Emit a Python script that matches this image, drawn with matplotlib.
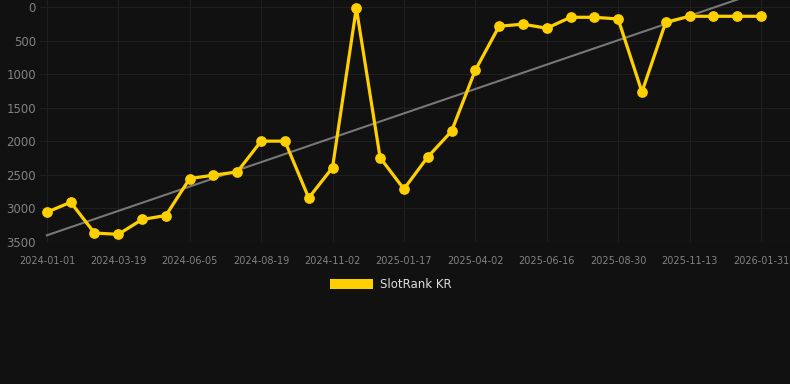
# SlotRank KR rank history, dark theme
import numpy as np
import matplotlib.pyplot as plt
from matplotlib.patches import Patch

# rank values per sample, 0 = best rank
rank = [3056, 2908, 3367, 3387, 3165, 3106, 2554, 2504, 2455, 1996,
        1996, 2844, 2391, 10, 2243, 2711, 2233, 1849, 937, 281,
        251, 311, 148, 148, 173, 1262, 222, 133, 133, 133, 133]
tick_labels = ['2024-01-01', '2024-03-19', '2024-06-05', '2024-08-19',
               '2024-11-02', '2025-01-17', '2025-04-02', '2025-06-16',
               '2025-08-30', '2025-11-13', '2026-01-31']
y_ticks = [0, 500, 1000, 1500, 2000, 2500, 3000, 3500]

bg = '#111111'
gold = '#FFD000'

x = np.arange(len(rank))
# linear trend through the data
k, b = np.polyfit(x, rank, 1)

fig = plt.figure(figsize=(7.9, 3.84), dpi=100, facecolor=bg)
ax = fig.add_axes([0.0506, 0.370, 0.9494, 0.630])
ax.set_facecolor(bg)

ax.plot(x, k * x + b, color='#777777', linewidth=1.5, zorder=2)
ax.plot(x, rank, color=gold, linewidth=2.3, marker='o', markersize=6.7, zorder=3)

ax.set_xlim(-0.29, 31.22)
ax.set_ylim(3500, -110)
ax.set_yticks(y_ticks)
ax.set_xticks(x[::3])
ax.set_xticklabels(tick_labels)
ax.tick_params(axis='y', length=0, labelsize=8.5, colors='#828282', pad=3)
ax.tick_params(axis='x', length=0, labelsize=7, colors='#828282', pad=10)
ax.grid(True, color='#1f1f1f', linewidth=0.8)
for s in ax.spines.values():
    s.set_visible(False)
ax.axhline(3500, color='#242424', linewidth=1)

fig.legend(handles=[Patch(facecolor=gold, label='SlotRank KR')],
           loc='center', bbox_to_anchor=(0.495, 0.258), frameon=False,
           fontsize=8.5, labelcolor='#dddddd', handlelength=3.6,
           handleheight=0.9, handletextpad=0.6)

fig.savefig('out.png', dpi=100, facecolor=bg)
plt.close()
